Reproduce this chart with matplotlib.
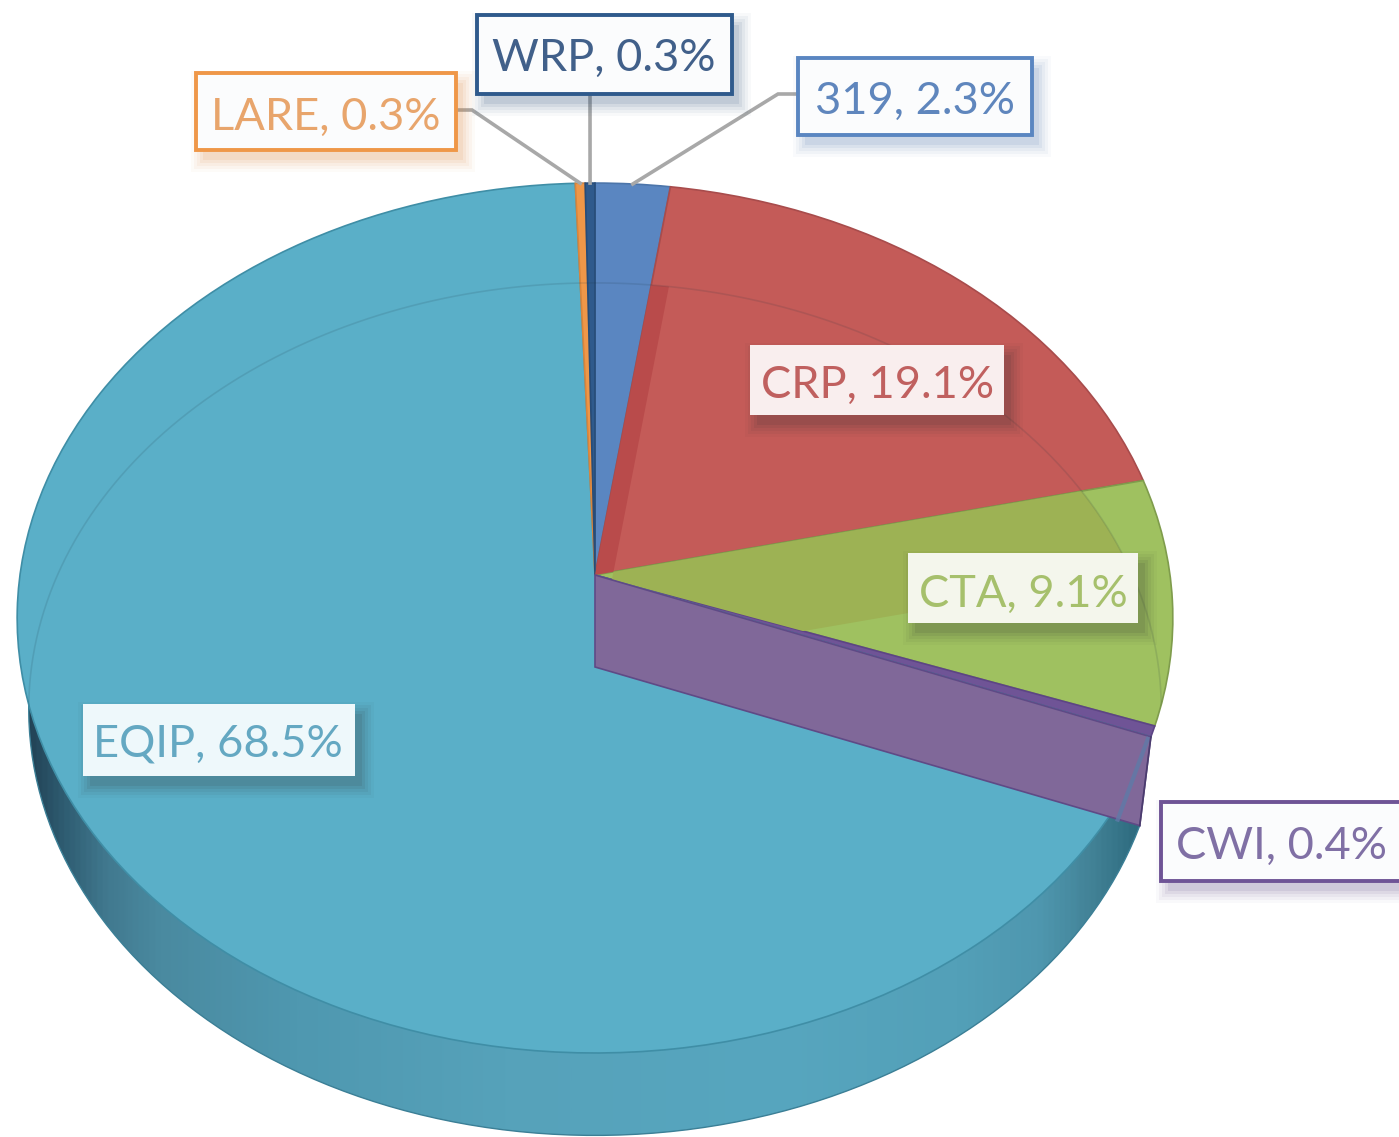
import numpy as np
import matplotlib
matplotlib.use('Agg')
import matplotlib.pyplot as plt
from matplotlib.colors import LinearSegmentedColormap
from matplotlib.patches import Polygon, Rectangle, Wedge
from matplotlib.transforms import Transform

plt.rcParams['font.family'] = ['Lato', 'DejaVu Sans']

programs = ['319', 'CRP', 'CTA', 'CWI', 'EQIP', 'LARE', 'WRP']
shares = [2.3, 19.1, 9.1, 0.4, 68.5, 0.3, 0.3]
slice_colors = ['#5a86c1', '#c45b58', '#9fc160', '#6f5496', '#5aafc8', '#ef9748', '#2f5a8c']
edge_colors = ['#4c75aa', '#a84c4c', '#7f9c4c', '#5d4585', '#3f8ea6', '#d9853c', '#274c78']
text_colors = ['#5f86bd', '#c0605f', '#a6c06c', '#8070a5', '#64a8c2', '#e8a56c', '#41608a']

# label boxes in picture pixels: left, top, right, bottom, text x, text y
boxes = {
    '319': (798, 58, 1032, 135, 915, 101),
    'CRP': (750, 345, 1004, 415, 878, 385),
    'CTA': (908, 553, 1138, 623, 1023, 594),
    'CWI': (1161, 802, 1405, 881, 1282, 846),
    'EQIP': (83, 704, 355, 776, 218, 744),
    'LARE': (196, 73, 456, 150, 326, 117),
    'WRP': (477, 15, 732, 94, 604, 58),
}
outlined = ['319', 'CWI', 'LARE', 'WRP']
box_fills = {'CRP': '#f9eeee', 'CTA': '#f4f6ec', 'EQIP': '#eef8fb'}
leaders = {'LARE': (456, 110, 472, 110), 'WRP': (590, 94, 590, 94), '319': (798, 94, 778, 94)}

# pie geometry
CX, RX, RY, K = 595, 575, 430.7, 0.0989
TOP_Y, BOTTOM_Y, BOTTOM_SCALE = 575, 667, 0.98


class PieView(Transform):
    # flat unit circle to picture pixels, with a little perspective
    input_dims = 2
    output_dims = 2

    def __init__(self, cy, scale=1.0):
        super().__init__()
        self.cy = cy
        self.scale = scale

    def transform_non_affine(self, values):
        xy = np.asarray(values, dtype=float)
        w = 1 + K * xy[:, 1]
        return np.column_stack([CX + self.scale * RX * xy[:, 0] / w,
                                self.cy - self.scale * RY * xy[:, 1] / w])


def rim(view, t1, t2, n=200):
    t = np.radians(np.linspace(t1, t2, n))
    return view.transform_non_affine(np.column_stack([np.cos(t), np.sin(t)]))


def draw_box(ax, name):
    left, top, right, bottom, tx, ty = boxes[name]
    color = edge_colors[programs.index(name)]
    for grow, alpha in zip([12, 9, 6, 3, 0], [0.03, 0.05, 0.06, 0.08, 0.1]):
        ax.add_patch(Rectangle((left + 7 - grow, top + 10 - grow), right - left + 2 * grow,
                               bottom - top + 2 * grow, fc='#333333' if name not in outlined else color,
                               ec='none', alpha=alpha, zorder=9))
    if name in outlined:
        ax.add_patch(Rectangle((left, top), right - left, bottom - top, fc='#fbfcfd',
                               ec=slice_colors[programs.index(name)], lw=2.8, zorder=10))
    else:
        ax.add_patch(Rectangle((left, top), right - left, bottom - top, fc=box_fills[name], ec='none', zorder=10))
    share = shares[programs.index(name)]
    ax.text(tx, ty, f'{name}, {share}%', ha='center', va='center', fontsize=32.6,
            color=text_colors[programs.index(name)], zorder=11)


fig = plt.figure(figsize=(13.99, 11.37), dpi=100)
ax = fig.add_axes([0, 0, 1, 1])

wedges, _ = ax.pie(shares, colors=slice_colors, startangle=90, counterclock=False,
                   wedgeprops={'linewidth': 1.2})

top_view = PieView(TOP_Y)
bottom_view = PieView(BOTTOM_Y, BOTTOM_SCALE)

for w, ec in zip(wedges, edge_colors):
    w.set_transform(top_view + ax.transData)
    w.set_edgecolor(ec)
    w.set_zorder(3)

# outer wall of the big slice, shaded left to right
eqip = wedges[programs.index('EQIP')]
wall_pts = np.vstack([rim(top_view, eqip.theta2, -175), rim(bottom_view, -175, eqip.theta2)])
wall = Polygon(wall_pts, closed=True, fc='none', ec='none', transform=ax.transData)
ax.add_patch(wall)
wall_cmap = LinearSegmentedColormap.from_list('wall', [
    (0.0, '#1f3d50'), (0.03, '#2f5d72'), (0.06, '#41798f'), (0.1, '#4a8aa0'), (0.2, '#4f98b0'), (0.35, '#56a2ba'),
    (0.55, '#57a6bf'), (0.68, '#53a0b8'), (0.74, '#4f97af'), (0.78, '#428296'), (0.81, '#2f6c80'), (1.0, '#2f6c80')])
img = ax.imshow(np.linspace(0, 1, 500)[None, :], cmap=wall_cmap, extent=(20, 1399, 1137, 0),
                aspect='auto', zorder=2)
img.set_clip_path(wall)
ax.plot(*rim(bottom_view, eqip.theta2, -175).T, color='#3b7f96', lw=1, zorder=2)

# see-through parts of the lower disc
overlaps = [('319', 'CRP', '#b94b4b'), ('CRP', 'CTA', '#9db254')]
for lower, upper, color in overlaps:
    src = wedges[programs.index(lower)]
    patch = Wedge((0, 0), 1, src.theta1, src.theta2, fc=color, ec='none', zorder=4)
    patch.set_transform(bottom_view + ax.transData)
    ax.add_patch(patch)
    patch.set_clip_path(wedges[programs.index(upper)])

# back edge of the lower disc shows faintly through the top
top_disc = Wedge((0, 0), 1, 0, 360, fc='none', ec='none')
top_disc.set_transform(top_view + ax.transData)
ax.add_patch(top_disc)
back = rim(bottom_view, -40, 215, 400)
back_line, = ax.plot(back[:, 0], back[:, 1], color='#1c3340', alpha=0.13, lw=1.2, zorder=5)
back_line.set_clip_path(top_disc)

# cut face of the thin CWI slice, seen over the big slice
cwi = wedges[programs.index('CWI')]
top_edge = rim(top_view, cwi.theta1, cwi.theta1, 1)[0]
bottom_edge = rim(bottom_view, cwi.theta1, cwi.theta1, 1)[0]
ax.add_patch(Polygon([(CX, TOP_Y), top_edge, bottom_edge, (CX, BOTTOM_Y)], closed=True,
                     fc='#806899', ec='#5f4a86', lw=1.2, zorder=6))
ax.plot([top_edge[0] - 3, bottom_edge[0] - 22], [top_edge[1] + 2, bottom_edge[1] - 6],
        color='#5f7aa8', lw=3, alpha=0.8, zorder=7)
ax.plot([top_edge[0], bottom_edge[0]], [top_edge[1], bottom_edge[1]], color='#4b3c6e', lw=1.2, zorder=7)

for name, (x0, y0, x1, y1) in leaders.items():
    w = wedges[programs.index(name)]
    mid = (w.theta1 + w.theta2) / 2
    end = rim(top_view, mid, mid, 1)[0]
    ax.plot([x0, x1, end[0]], [y0, y1, end[1]], color='#a8a8a8', lw=2.6, zorder=8,
            solid_joinstyle='miter')

for name in programs:
    draw_box(ax, name)

ax.set_aspect('auto')
ax.set_xlim(0, 1399)
ax.set_ylim(1137, 0)
ax.axis('off')
fig.savefig('out.png', dpi=100)
